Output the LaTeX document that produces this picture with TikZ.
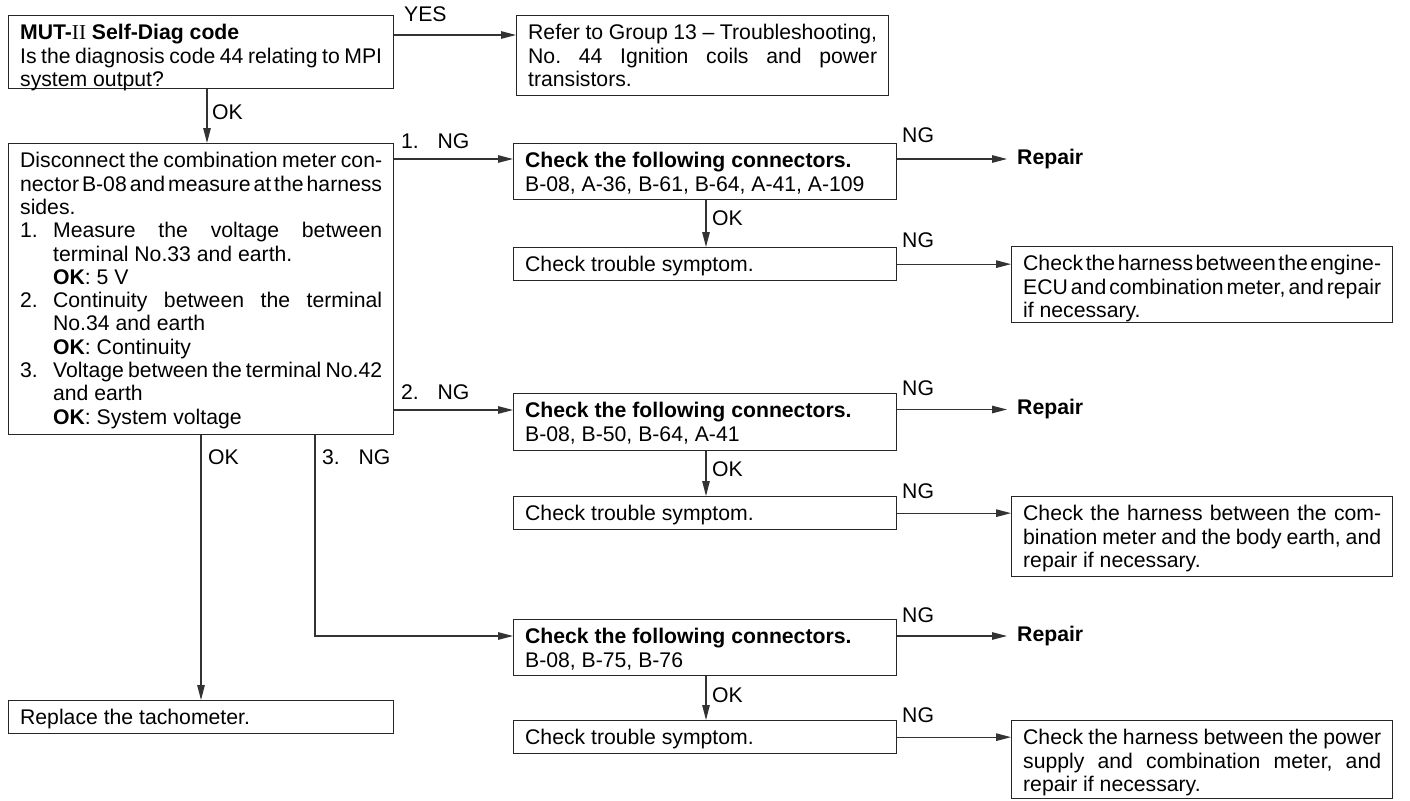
\documentclass[tikz,border=0pt]{standalone}
\usepackage{fontspec}
\setmainfont{Liberation Sans}
\newfontfamily\serifroman{Liberation Serif}
\usetikzlibrary{arrows.meta}
\frenchspacing
\newcommand{\bt}[3]{\parbox[c][#1][t]{#2}{\frenchspacing\spaceskip=0.278em plus 0.5em minus 0.21em\relax\hyphenpenalty=10000\exhyphenpenalty=10000\tolerance=10000\hbadness=10000\rule{0pt}{24.2pt}#3}}
\newcommand{\numlab}[1]{\makebox[36.5pt][l]{#1}NG}
\begin{document}
\begin{tikzpicture}[x=1pt,y=-1pt,
  every node/.style={font=\fontsize{21.2pt}{23.3pt}\selectfont},
  box/.style={draw=black!85, line width=1.3pt, anchor=north west, inner xsep=11.5pt, inner ysep=0pt},
  lbl/.style={anchor=west, inner sep=0pt},
  arr/.style={draw=black!80, line width=1.2pt, -{Triangle[length=15pt,width=7.5pt]}}]
\fill[white] (0,0) rectangle (1410,800);
\useasboundingbox (0,0) rectangle (1410,800);
% boxes
\node[box] (b1) at (8,15) {\bt{73pt}{362pt}{\textbf{MUT-}{\serifroman II} \textbf{Self-Diag code}\\Is the diagnosis code 44 relating to MPI\\system output?}};
\node[box] (ref) at (516,15) {\bt{80pt}{349pt}{Refer to Group 13 \textendash{} Troubleshooting,\linebreak No.\ 44 Ignition coils and power\linebreak transistors.}};
\node[box] (b2) at (8,143) {\bt{291pt}{362pt}{Disconnect the combination meter con-\linebreak nector B-08 and measure at the harness\linebreak sides.\par
\hangindent=33pt\hangafter=1 \makebox[33pt][l]{1.}Measure the voltage between\linebreak terminal No.33 and earth.\\\textbf{OK}: 5 V\par
\hangindent=33pt\hangafter=1 \makebox[33pt][l]{2.}Continuity between the terminal\linebreak No.34 and earth\\\textbf{OK}: Continuity\par
\hangindent=33pt\hangafter=1 \makebox[33pt][l]{3.}Voltage between the terminal No.42\linebreak and earth\\\textbf{OK}: System voltage}};
\node[box] (tach) at (8,700) {\bt{33pt}{362pt}{Replace the tachometer.}};
% group 1
\node[box] (b3) at (513,143) {\bt{56pt}{360pt}{\textbf{Check the following connectors.}\\B-08, A-36, B-61, B-64, A-41, A-109}};
\node[box] (b4) at (513,247) {\bt{33pt}{360pt}{Check trouble symptom.}};
\node[box] (b5) at (1011,246) {\bt{76pt}{358pt}{Check the harness between the engine-\linebreak ECU and combination meter, and repair\linebreak if necessary.}};
\node[lbl, inner xsep=10pt] (r1) at (1007,159) {\textbf{Repair}};
% group 2
\node[box] (b6) at (513,393) {\bt{57pt}{360pt}{\textbf{Check the following connectors.}\\B-08, B-50, B-64, A-41}};
\node[box] (b7) at (513,496) {\bt{33pt}{360pt}{Check trouble symptom.}};
\node[box] (b8) at (1011,496) {\bt{80pt}{358pt}{Check the harness between the com-\linebreak bination meter and the body earth, and\linebreak repair if necessary.}};
\node[lbl, inner xsep=10pt] (r2) at (1007,409.5) {\textbf{Repair}};
% group 3
\node[box] (b9) at (513,619) {\bt{56pt}{360pt}{\textbf{Check the following connectors.}\\B-08, B-75, B-76}};
\node[box] (b10) at (513,720) {\bt{33pt}{360pt}{Check trouble symptom.}};
\node[box] (b11) at (1011,720) {\bt{78pt}{358pt}{Check the harness between the power\linebreak supply and combination meter, and\linebreak repair if necessary.}};
\node[lbl, inner xsep=10pt] (r3) at (1007,636) {\textbf{Repair}};
% entry points
\coordinate (in3) at ([yshift=-16pt]b3.north west);
\coordinate (in6) at ([yshift=-17pt]b6.north west);
\coordinate (in9) at ([yshift=-17pt]b9.north west);
\coordinate (inref) at ([yshift=-20pt]ref.north west);
% connectors
\draw[arr] (b1.east |- inref) -- (inref);
\draw[arr] ([xshift=199pt]b1.south west) -- ([xshift=199pt]b2.north west);
\draw[arr] (b2.east |- in3) -- (in3);
\draw[arr] (b3.east |- r1.west) -- (r1.west);
\draw[arr] ([xshift=193pt]b3.south west) -- ([xshift=193pt]b4.north west);
\draw[arr] (b4.east) -- (b4.east -| b5.west);
\draw[arr] (b2.east |- in6) -- (in6);
\draw[arr] (b6.east |- r2.west) -- (r2.west);
\draw[arr] ([xshift=193pt]b6.south west) -- ([xshift=193pt]b7.north west);
\draw[arr] (b7.east) -- (b7.east -| b8.west);
\draw[arr] ([xshift=307pt]b2.south west) |- (in9);
\draw[arr] (b9.east |- r3.west) -- (r3.west);
\draw[arr] ([xshift=193pt]b9.south west) -- ([xshift=193pt]b10.north west);
\draw[arr] (b10.east) -- (b10.east -| b11.west);
\draw[arr] ([xshift=193pt]b2.south west) -- ([xshift=193pt]tach.north west);
% labels
\node[lbl] (lyes) at (404,14) {YES};
\node[lbl] (lok1) at (212,112) {OK};
\node[lbl] (lng1) at (401,141) {\numlab{1.}};
\node[lbl] (lng2) at (401,392) {\numlab{2.}};
\node[lbl] (lok2) at (208,457) {OK};
\node[lbl] (lng3) at (322,457) {\numlab{3.}};
\node[lbl] (lnga) at (902,135) {NG};
\node[lbl] (lngb) at (902,240) {NG};
\node[lbl] (lngc) at (902,388) {NG};
\node[lbl] (lngd) at (902,491) {NG};
\node[lbl] (lnge) at (902,615) {NG};
\node[lbl] (lngf) at (902,715) {NG};
\node[lbl] (loka) at (712,218) {OK};
\node[lbl] (lokb) at (712,469) {OK};
\node[lbl] (lokc) at (712,695) {OK};
\end{tikzpicture}
\end{document}
